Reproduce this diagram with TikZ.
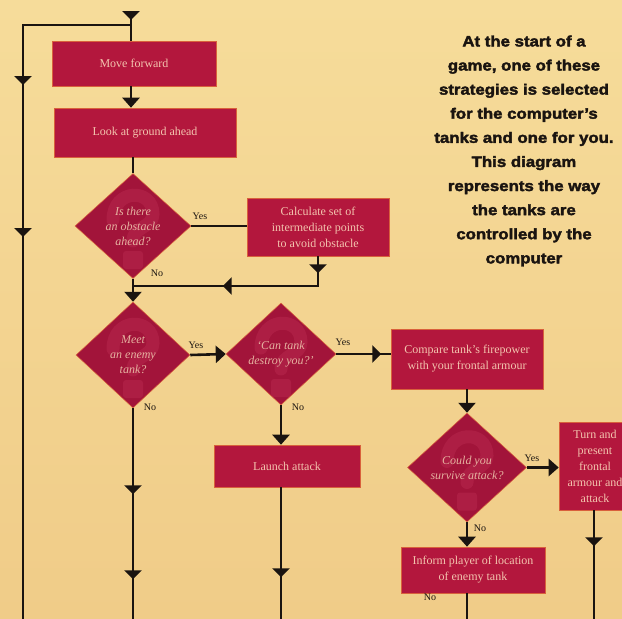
\documentclass[tikz,border=0pt]{standalone}
\usepackage{fontspec}
\usetikzlibrary{shapes.geometric,arrows.meta,decorations.markings}
\newfontfamily\serifface{Liberation Serif}
\newfontfamily\notefont{Liberation Sans}[BoldFeatures={FakeBold=2.5,FakeStretch=1.12}]

\definecolor{papertop}{HTML}{F6DC9A}
\definecolor{paperbottom}{HTML}{F0CC88}
\definecolor{boxred}{HTML}{B3173D}
\definecolor{diamondred}{HTML}{A2143A}
\definecolor{qmark}{HTML}{AD1E44}
\definecolor{boxtext}{HTML}{F3C4AE}
\definecolor{querytext}{HTML}{E6B2A0}
\definecolor{rim}{HTML}{D9603C}
\definecolor{inkblack}{HTML}{1A1410}

\tikzset{
  box/.style={rectangle, fill=boxred, draw=rim, line width=0.6pt, text=boxtext,
    font=\serifface\fontsize{12}{16}\selectfont, align=center, inner sep=0pt},
  % decision diamond with a faint question mark printed into its fill
  query/.style={diamond, aspect=1, fill=diamondred, draw=rim, line width=0.5pt,
    text=querytext, font=\serifface\itshape\fontsize{12}{15}\selectfont,
    align=center, inner sep=0pt,
    path picture={
      \begin{scope}[shift={(path picture bounding box.center)}]
        \draw[qmark, line width=13pt, line cap=round]
          (-20,-6) .. controls (-20,-38) and (20,-38) .. (20,-12)
          .. controls (20,2) and (0,0) .. (0,15);
        \fill[qmark, rounded corners=3pt] (-10,25) rectangle (10,43);
      \end{scope}}},
  flow/.style={line width=2.6pt, draw=inkblack},
  into/.style={flow, -{Triangle[width=17pt,length=10pt]}},
  tipat/.style={postaction={decorate, decoration={markings,
    mark=at position #1 with {\arrow{Triangle[width=17pt,length=9pt]}}}}},
  answer/.style={font=\serifface\fontsize{10}{10}\selectfont, text=inkblack, inner sep=0pt},
  note/.style={font=\notefont\bfseries\fontsize{15}{24.1}\selectfont, text=inkblack,
    align=center, inner sep=0pt}
}

\begin{document}
\begin{tikzpicture}[x=1pt, y=-1pt]
  % page and paper
  \useasboundingbox (0,0) rectangle (622,619);
  \clip (0,0) rectangle (622,619);
  \shade[top color=papertop, bottom color=paperbottom] (0,0) rectangle (622,619);

  % explanatory note
  \node[note] (blurb) at (524,151) {At the start of a\\game, one of these\\strategies is selected\\for the computer’s\\tanks and one for you.\\This diagram\\represents the way\\the tanks are\\controlled by the\\computer};

  % process boxes
  \node[box, minimum width=164pt, minimum height=45pt] (move) at (134,63.5) {Move forward};
  \node[box, minimum width=182pt, minimum height=49pt] (look) at (145,132.5) {Look at ground ahead};
  \node[box, minimum width=142pt, minimum height=58pt] (calc) at (318,227) {Calculate set of\\intermediate points\\to avoid obstacle};
  \node[box, minimum width=152pt, minimum height=60pt] (compare) at (467,359) {Compare tank’s firepower\\with your frontal armour};
  \node[box, minimum width=146pt, minimum height=42pt] (launch) at (287,466) {Launch attack};
  \node[box, minimum width=72pt, minimum height=88pt] (turn) at (595,466) {Turn and\\present\\frontal\\armour and\\attack};
  \node[box, minimum width=144pt, minimum height=46pt] (inform) at (473,570) {Inform player of location\\of enemy tank};

  % decisions
  \node[query, minimum width=116pt, minimum height=105pt] (obst) at (133,226) {Is there\\an obstacle\\ahead?};
  \node[query, minimum width=114pt, minimum height=106pt] (enemy) at (133,355) {Meet\\an enemy\\tank?};
  \node[query, minimum width=110pt, minimum height=102pt] (destroy) at (281,354) {‘Can tank\\destroy you?’};
  \node[query, minimum width=119pt, minimum height=109pt] (survive) at (467,467.5) {Could you\\survive attack?};

  % free ends of the connectors
  \coordinate (entry) at (131,12);
  \coordinate (split) at (131,25);
  \coordinate (leftfoot) at (23,625);
  \coordinate (merge) at (133,286);
  \coordinate (enemyfoot) at (133,625);
  \coordinate (launchfoot) at (281,625);
  \coordinate (informfoot) at (467,625);
  \coordinate (turnfoot) at (594,625);

  % connectors
  \draw[flow, tipat=8pt] (entry) -- (move.north -| entry);
  \draw[flow, tipat=168pt, tipat=320pt] (split) -| (leftfoot);
  \draw[into] (move.south -| entry) -- (look.north -| entry);
  \draw[flow] (look.south -| obst) -- (obst.north);
  \draw[flow] (obst.east) -- (calc.west |- obst.east);
  \draw[flow, tipat=17pt, tipat=125pt] (calc.south) |- (merge);
  \draw[into] (obst.south) -- (enemy.north);
  \draw[into] (enemy.east) -- (destroy.west);
  \draw[flow, tipat=86pt, tipat=171pt] (enemy.south) -- (enemyfoot);
  \draw[flow, tipat=45pt] (destroy.east) -- (compare.west |- destroy.east);
  \draw[into] (destroy.south) -- (destroy.south |- launch.north);
  \draw[flow, tipat=90pt] (destroy.south |- launch.south) -- (launchfoot);
  \draw[into] (compare.south) -- (survive.north);
  \draw[into] (survive.east) -- (turn.west |- survive.east);
  \draw[into] (survive.south) -- (survive.south |- inform.north);
  \draw[flow] (survive.south |- inform.south) -- (informfoot);
  \draw[flow, tipat=36pt] (turn.south -| turnfoot) -- (turnfoot);

  % branch labels
  \node[answer] (yes1) at (200,216) {Yes};
  \node[answer] (no1) at (157,273) {No};
  \node[answer] (yes2) at (196,345) {Yes};
  \node[answer] (no2) at (150,407) {No};
  \node[answer] (yes3) at (343,342) {Yes};
  \node[answer] (no3) at (298,407) {No};
  \node[answer] (yes4) at (532,458) {Yes};
  \node[answer] (no4) at (480,528) {No};
  \node[answer] (no5) at (430,597) {No};
\end{tikzpicture}
\end{document}
